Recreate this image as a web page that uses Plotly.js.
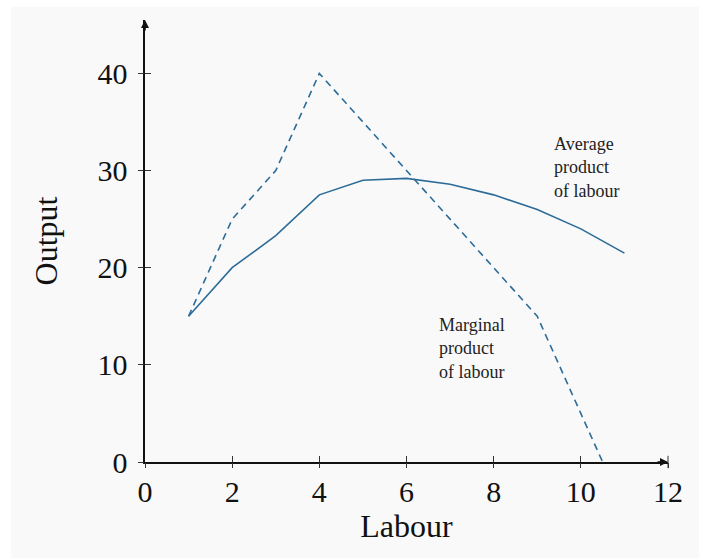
<!DOCTYPE html>
<html>
<head>
<meta charset="utf-8">
<script src="https://cdn.plot.ly/plotly-3.0.1.min.js"></script>
<style>
  html, body { margin: 0; padding: 0; background: #ffffff; }
  #wrap { position: relative; width: 701px; height: 558px; overflow: hidden; }
  #bg { position: absolute; left: 11px; top: 7px; width: 688px; height: 551px; background: #f9f9f9; }
  #plot { position: absolute; left: 0; top: 0; width: 701px; height: 558px; }
</style>
</head>
<body>
<div id="wrap"><div id="bg"></div><div id="plot"></div></div>
<script>
// Labour units
const labourAPL = [1, 2, 3, 4, 5, 6, 7, 8, 9, 10, 11];
// Average product of labour
const averageProduct = [15, 20, 23.3, 27.5, 29, 29.2, 28.6, 27.5, 26, 24, 21.5];
// Marginal product of labour
const labourMPL = [1, 2, 3, 4, 5, 6, 7, 8, 9, 10.5];
const marginalProduct = [15, 25, 30, 40, 35, 30, 25, 20, 15, 0];

const xTicks = [0, 2, 4, 6, 8, 10, 12];
const yTicks = [0, 10, 20, 30, 40];

const lineColor = '#2d6c98';
const serif = 'Liberation Serif';

const traces = [
  {
    x: labourMPL, y: marginalProduct, type: 'scatter', mode: 'lines',
    line: { color: lineColor, width: 1.6, dash: '7px,5px' },
    hoverinfo: 'skip', showlegend: false, cliponaxis: false
  },
  {
    x: labourAPL, y: averageProduct, type: 'scatter', mode: 'lines',
    line: { color: lineColor, width: 1.6 },
    hoverinfo: 'skip', showlegend: false, cliponaxis: false
  },
  { x: [], y: [], xaxis: 'x2', yaxis: 'y2', type: 'scatter', showlegend: false, hoverinfo: 'skip' }
];

const axisCommon = {
  showgrid: false, zeroline: false,
  tickfont: { family: serif, size: 30, color: '#111' },
  tickcolor: '#333', ticklen: 6, tickwidth: 1
};

const layout = {
  width: 701, height: 558,
  font: { family: serif, color: '#222' },
  margin: { l: 145, r: 33, t: 20, b: 96 },
  paper_bgcolor: 'rgba(0,0,0,0)',
  plot_bgcolor: 'rgba(0,0,0,0)',
  showlegend: false,
  xaxis: Object.assign({}, axisCommon, {
    range: [0, 12], tickvals: xTicks, ticktext: xTicks.map(String),
    ticks: 'inside', showline: true, linecolor: '#111', linewidth: 1.6,
    ticklabelstandoff: 2,
    title: { text: 'Labour', font: { family: serif, size: 32, color: '#111' }, standoff: 8 },
    fixedrange: true
  }),
  yaxis: Object.assign({}, axisCommon, {
    range: [0, 45.5], tickvals: yTicks, ticktext: yTicks.map(String),
    ticks: 'inside', showline: true, linecolor: '#111', linewidth: 1.6,
    ticklabelstandoff: 10,
    title: { text: 'Output', font: { family: serif, size: 32, color: '#111' }, standoff: 30 },
    fixedrange: true
  }),
  xaxis2: {
    overlaying: 'x', matches: 'x', anchor: 'y2', side: 'bottom',
    tickvals: xTicks, ticks: 'outside', ticklen: 5, tickcolor: '#333',
    showticklabels: false, showgrid: false, zeroline: false, showline: false
  },
  yaxis2: {
    overlaying: 'y', matches: 'y', anchor: 'x2', side: 'left',
    tickvals: yTicks, ticks: 'outside', ticklen: 6, tickcolor: '#333',
    showticklabels: false, showgrid: false, zeroline: false, showline: false
  },
  annotations: [
    {
      x: 9.33, y: 34.0, xref: 'x', yref: 'y', xanchor: 'left', yanchor: 'top',
      text: 'Average<br>product<br>of labour', showarrow: false, align: 'left',
      font: { family: serif, size: 18, color: '#222' }
    },
    {
      x: 6.7, y: 15.3, xref: 'x', yref: 'y', xanchor: 'left', yanchor: 'top',
      text: 'Marginal<br>product<br>of labour', showarrow: false, align: 'left',
      font: { family: serif, size: 18, color: '#222' }
    },
    // axis arrowheads
    {
      x: 1, y: 0, xref: 'paper', yref: 'paper', ax: -12, ay: 0,
      showarrow: true, arrowhead: 2, arrowsize: 1, arrowwidth: 1.6, arrowcolor: '#111', text: ''
    },
    {
      x: 0, y: 1, xref: 'paper', yref: 'paper', ax: 0, ay: 12,
      showarrow: true, arrowhead: 2, arrowsize: 1, arrowwidth: 1.6, arrowcolor: '#111', text: ''
    }
  ],
  shapes: [
    { type: 'line', xref: 'paper', yref: 'paper', x0: 1, x1: 1, y0: -0.014, y1: 0.014,
      line: { color: '#333', width: 1 } }
  ]
};

Plotly.newPlot('plot', traces, layout, { displayModeBar: false, staticPlot: true });
</script>
</body>
</html>
